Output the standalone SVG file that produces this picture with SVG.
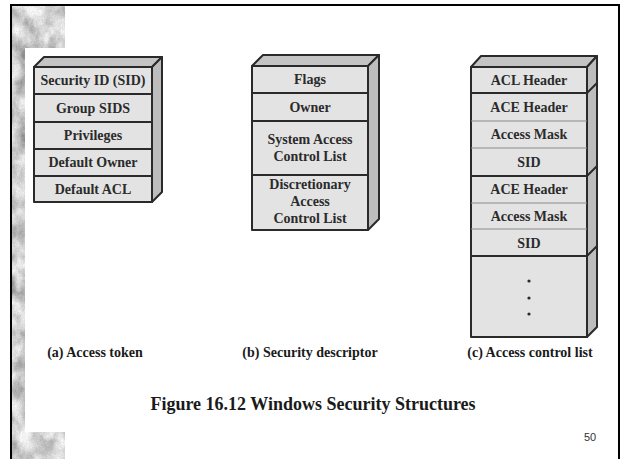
<svg xmlns="http://www.w3.org/2000/svg" width="621" height="459" viewBox="0 0 621 459">
<defs>
<filter id="grain" x="0" y="0" width="100%" height="100%">
<feTurbulence type="fractalNoise" baseFrequency="0.06 0.05" numOctaves="4" seed="7" result="n"/>
<feColorMatrix in="n" type="matrix" values="0.9 0.9 0 0 -0.2  0.9 0.9 0 0 -0.2  0.9 0.9 0 0 -0.2  0 0 0 0 1" result="g"/>
<feTurbulence type="fractalNoise" baseFrequency="1.2" numOctaves="1" seed="2" result="f"/>
<feColorMatrix in="f" type="matrix" values="0 0 0 0 0.5  0 0 0 0 0.5  0 0 0 0 0.5  0 0 0 0.8 -0.2" result="fg"/>
<feBlend in="fg" in2="g" mode="multiply" result="b"/>
<feComposite in="b" in2="SourceGraphic" operator="in"/>
</filter>
<style>
.front{fill:#e3e3e3;stroke:#2a2a2a;stroke-width:2;stroke-linejoin:round}
.top{fill:#c4c4c4;stroke:#2a2a2a;stroke-width:2;stroke-linejoin:round}
.side{fill:#bdbdbd;stroke:#2a2a2a;stroke-width:2;stroke-linejoin:round}
.div{stroke:#2a2a2a;stroke-width:2}
.thin{stroke:#8a8a8a;stroke-width:1}
.t{font-weight:bold;font-size:14px;fill:#2b2b2b;text-anchor:middle}
.lbl{font-weight:bold;font-size:14px;fill:#1a1a1a;text-anchor:middle}
.title{font-weight:bold;font-size:18px;fill:#1a1a1a;text-anchor:middle}
.num{font-size:11px;fill:#333;text-anchor:middle}
</style>
</defs>
<rect width="621" height="459" fill="#ffffff"/>
<g id="background">
<path d="M12 5 H65 V48 H25 V432 H65 V459 H12 Z" fill="#b8b8b8" filter="url(#grain)"/>
<path d="M11 459 V5 H619 V459" fill="none" stroke="#000" stroke-width="2"/>
</g>
<g font-family="Liberation Serif, Times New Roman, serif">
<g id="access-token">
<polygon class="top" points="34,67 44,57 162,57 152,67"/>
<polygon class="side" points="152,67 162,57 162,192 152,202"/>
<rect class="front" x="34" y="67" width="118" height="135"/>
<line class="div" x1="34" y1="94" x2="152" y2="94"/>
<line class="div" x1="34" y1="122" x2="152" y2="122"/>
<line class="div" x1="34" y1="149" x2="152" y2="149"/>
<line class="div" x1="34" y1="176" x2="152" y2="176"/>
<text class="t" x="93" y="85">Security ID (SID)</text>
<text class="t" x="93" y="112.5">Group SIDS</text>
<text class="t" x="93" y="140">Privileges</text>
<text class="t" x="93" y="167">Default Owner</text>
<text class="t" x="93" y="193.5">Default ACL</text>
</g>
<g id="security-descriptor">
<polygon class="top" points="252,66 263,55 379,55 368,66"/>
<polygon class="side" points="368,66 379,55 379,219 368,230"/>
<rect class="front" x="252" y="66" width="116" height="164"/>
<line class="div" x1="252" y1="93" x2="368" y2="93"/>
<line class="div" x1="252" y1="121" x2="368" y2="121"/>
<line class="div" x1="252" y1="175" x2="368" y2="175"/>
<text class="t" x="310" y="84">Flags</text>
<text class="t" x="310" y="111.5">Owner</text>
<text class="t" x="310" y="143.5">System Access</text>
<text class="t" x="310" y="160.5">Control List</text>
<text class="t" x="310" y="188.5">Discretionary</text>
<text class="t" x="310" y="205.5">Access</text>
<text class="t" x="310" y="222.5">Control List</text>
</g>
<g id="access-control-list">
<polygon class="top" points="471,67 481,56 597,56 587,67"/>
<polygon class="side" points="587,67 597,56 597,327 587,337"/>
<rect class="front" x="471" y="67" width="116" height="270"/>
<line class="thin" x1="471" y1="121" x2="587" y2="121"/>
<line class="thin" x1="471" y1="148" x2="587" y2="148"/>
<line class="thin" x1="471" y1="203" x2="587" y2="203"/>
<line class="thin" x1="471" y1="229" x2="587" y2="229"/>
<polyline class="div" fill="none" points="471,93 587,93 597,83"/>
<polyline class="div" fill="none" points="471,176 587,176 597,166"/>
<polyline class="div" fill="none" points="471,256 587,256 597,246"/>
<text class="t" x="529" y="85">ACL Header</text>
<text class="t" x="529" y="112">ACE Header</text>
<text class="t" x="529" y="139">Access Mask</text>
<text class="t" x="529" y="167">SID</text>
<text class="t" x="529" y="194">ACE Header</text>
<text class="t" x="529" y="221">Access Mask</text>
<text class="t" x="529" y="247.5">SID</text>
<circle cx="529" cy="281" r="1.6" fill="#2b2b2b"/>
<circle cx="529" cy="298" r="1.6" fill="#2b2b2b"/>
<circle cx="529" cy="314" r="1.6" fill="#2b2b2b"/>
</g>
<g id="connectors"></g>
<g id="captions">
<text class="lbl" x="95" y="357">(a) Access token</text>
<text class="lbl" x="310" y="357">(b) Security descriptor</text>
<text class="lbl" x="530" y="357">(c) Access control list</text>
<text class="title" x="313" y="410">Figure 16.12  Windows Security Structures</text>
<text class="num" x="590" y="441" font-family="Liberation Sans, Arial, sans-serif">50</text>
</g>
</g>
</svg>
